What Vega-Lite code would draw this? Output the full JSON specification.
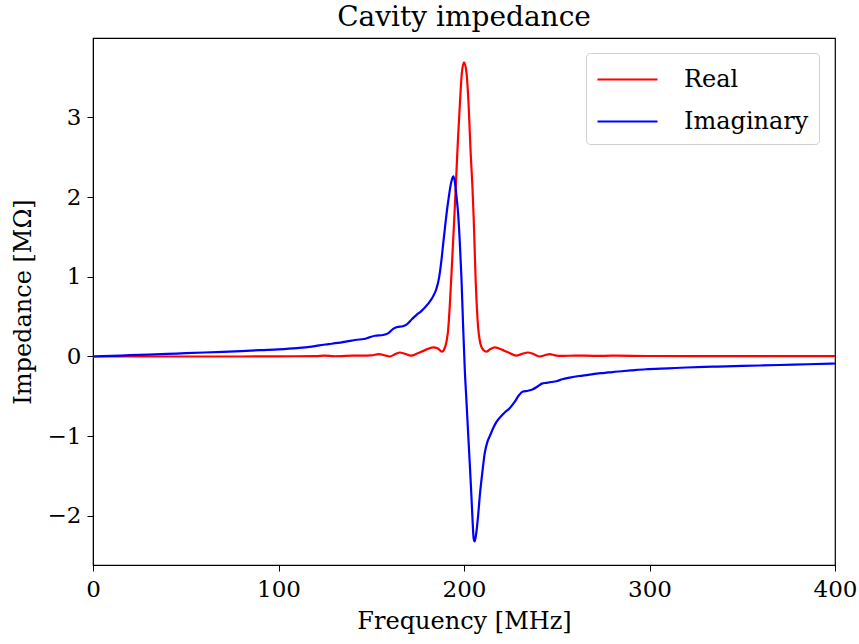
{
  "$schema": "https://vega.github.io/schema/vega-lite/v6.json",
  "width": 742,
  "height": 527,
  "autosize": "none",
  "padding": {"left": 93, "top": 38, "right": 24, "bottom": 79},
  "background": "white",
  "title": {"text": "Cavity impedance", "font": "DejaVu Serif", "fontSize": 28, "fontWeight": "normal", "color": "black", "offset": 6},
  "config": {
    "view": {"stroke": "black", "strokeWidth": 1.2},
    "axis": {
      "labelFont": "DejaVu Serif", "labelFontSize": 23, "labelColor": "black", "labelFlush": false,
      "titleFont": "DejaVu Serif", "titleFontSize": 24, "titleFontWeight": "normal", "titleColor": "black",
      "domainColor": "black", "tickColor": "black", "tickSize": 6, "grid": false
    },
    "legend": {"labelFont": "DejaVu Serif", "labelFontSize": 24, "labelColor": "black"}
  },
  "data": {"values": [
    {"f":0,"v":0,"s":"Real"},{"f":20,"v":0,"s":"Real"},{"f":50,"v":0,"s":"Real"},{"f":80,"v":0,"s":"Real"},
    {"f":100,"v":0.002,"s":"Real"},{"f":120,"v":0.005,"s":"Real"},{"f":125,"v":0.012,"s":"Real"},{"f":130,"v":0.003,"s":"Real"},
    {"f":140,"v":0.01,"s":"Real"},{"f":150,"v":0.015,"s":"Real"},{"f":154,"v":0.03,"s":"Real"},{"f":158,"v":0.01,"s":"Real"},
    {"f":160,"v":0.0,"s":"Real"},{"f":163,"v":0.03,"s":"Real"},{"f":165.5,"v":0.05,"s":"Real"},{"f":168,"v":0.035,"s":"Real"},
    {"f":171.5,"v":0.01,"s":"Real"},{"f":175,"v":0.04,"s":"Real"},{"f":179,"v":0.08,"s":"Real"},{"f":183.3,"v":0.115,"s":"Real"},
    {"f":186,"v":0.1,"s":"Real"},{"f":188,"v":0.06,"s":"Real"},{"f":189.5,"v":0.1,"s":"Real"},{"f":190.5,"v":0.18,"s":"Real"},
    {"f":191.4,"v":0.32,"s":"Real"},{"f":192.3,"v":0.62,"s":"Real"},{"f":193.6,"v":1.2,"s":"Real"},{"f":194.9,"v":1.8,"s":"Real"},
    {"f":195.9,"v":2.3,"s":"Real"},{"f":196.8,"v":2.75,"s":"Real"},{"f":197.7,"v":3.13,"s":"Real"},{"f":198.8,"v":3.55,"s":"Real"},
    {"f":200.0,"v":3.69,"s":"Real"},{"f":201.3,"v":3.57,"s":"Real"},{"f":202.5,"v":3.15,"s":"Real"},{"f":203.6,"v":2.55,"s":"Real"},
    {"f":204.5,"v":2.15,"s":"Real"},{"f":205.2,"v":1.75,"s":"Real"},{"f":206.3,"v":0.95,"s":"Real"},{"f":207.6,"v":0.37,"s":"Real"},
    {"f":208.5,"v":0.2,"s":"Real"},{"f":209.4,"v":0.12,"s":"Real"},{"f":210.5,"v":0.08,"s":"Real"},{"f":212.1,"v":0.06,"s":"Real"},
    {"f":214,"v":0.09,"s":"Real"},{"f":216.6,"v":0.115,"s":"Real"},{"f":219,"v":0.1,"s":"Real"},{"f":221,"v":0.08,"s":"Real"},
    {"f":224,"v":0.05,"s":"Real"},{"f":228.2,"v":0.01,"s":"Real"},{"f":231,"v":0.03,"s":"Real"},{"f":234.5,"v":0.05,"s":"Real"},
    {"f":237.5,"v":0.03,"s":"Real"},{"f":240.8,"v":0.0,"s":"Real"},{"f":243.5,"v":0.015,"s":"Real"},{"f":246.2,"v":0.03,"s":"Real"},
    {"f":249,"v":0.015,"s":"Real"},{"f":252.5,"v":0.007,"s":"Real"},{"f":260,"v":0.012,"s":"Real"},{"f":270,"v":0.008,"s":"Real"},
    {"f":280,"v":0.01,"s":"Real"},{"f":300,"v":0.006,"s":"Real"},{"f":350,"v":0.005,"s":"Real"},{"f":400,"v":0.004,"s":"Real"},

    {"f":0,"v":0,"s":"Imaginary"},{"f":10,"v":0.008,"s":"Imaginary"},{"f":20,"v":0.016,"s":"Imaginary"},{"f":30,"v":0.024,"s":"Imaginary"},
    {"f":40,"v":0.032,"s":"Imaginary"},{"f":50,"v":0.042,"s":"Imaginary"},{"f":60,"v":0.05,"s":"Imaginary"},{"f":70,"v":0.058,"s":"Imaginary"},
    {"f":80,"v":0.068,"s":"Imaginary"},{"f":90,"v":0.08,"s":"Imaginary"},{"f":100,"v":0.09,"s":"Imaginary"},{"f":110,"v":0.105,"s":"Imaginary"},
    {"f":116.8,"v":0.12,"s":"Imaginary"},{"f":122,"v":0.14,"s":"Imaginary"},{"f":127,"v":0.155,"s":"Imaginary"},{"f":132,"v":0.17,"s":"Imaginary"},
    {"f":137,"v":0.19,"s":"Imaginary"},{"f":142,"v":0.21,"s":"Imaginary"},{"f":146,"v":0.22,"s":"Imaginary"},{"f":149,"v":0.24,"s":"Imaginary"},
    {"f":152,"v":0.26,"s":"Imaginary"},{"f":156.4,"v":0.27,"s":"Imaginary"},{"f":159,"v":0.29,"s":"Imaginary"},{"f":162,"v":0.35,"s":"Imaginary"},
    {"f":164,"v":0.37,"s":"Imaginary"},{"f":167,"v":0.38,"s":"Imaginary"},{"f":169,"v":0.4,"s":"Imaginary"},{"f":172,"v":0.47,"s":"Imaginary"},
    {"f":174.3,"v":0.52,"s":"Imaginary"},{"f":177,"v":0.57,"s":"Imaginary"},{"f":180.6,"v":0.66,"s":"Imaginary"},{"f":183,"v":0.74,"s":"Imaginary"},
    {"f":185,"v":0.84,"s":"Imaginary"},{"f":186.5,"v":0.98,"s":"Imaginary"},{"f":187.8,"v":1.2,"s":"Imaginary"},{"f":188.8,"v":1.42,"s":"Imaginary"},
    {"f":189.8,"v":1.63,"s":"Imaginary"},{"f":190.8,"v":1.83,"s":"Imaginary"},{"f":191.8,"v":2.0,"s":"Imaginary"},{"f":192.8,"v":2.15,"s":"Imaginary"},
    {"f":193.6,"v":2.23,"s":"Imaginary"},{"f":194.2,"v":2.26,"s":"Imaginary"},
    {"f":195,"v":2.2,"s":"Imaginary"},{"f":196,"v":2.0,"s":"Imaginary"},{"f":196.8,"v":1.8,"s":"Imaginary"},{"f":197.7,"v":1.45,"s":"Imaginary"},
    {"f":198.6,"v":1.0,"s":"Imaginary"},{"f":199.5,"v":0.4,"s":"Imaginary"},{"f":200.4,"v":-0.15,"s":"Imaginary"},{"f":201.3,"v":-0.55,"s":"Imaginary"},
    {"f":202.2,"v":-0.95,"s":"Imaginary"},{"f":203.1,"v":-1.34,"s":"Imaginary"},{"f":204,"v":-1.75,"s":"Imaginary"},{"f":204.6,"v":-2.05,"s":"Imaginary"},
    {"f":205.2,"v":-2.28,"s":"Imaginary"},{"f":205.7,"v":-2.32,"s":"Imaginary"},{"f":206.4,"v":-2.25,"s":"Imaginary"},{"f":207.6,"v":-2.0,"s":"Imaginary"},
    {"f":208.5,"v":-1.75,"s":"Imaginary"},{"f":209.4,"v":-1.55,"s":"Imaginary"},{"f":210.3,"v":-1.37,"s":"Imaginary"},{"f":211.2,"v":-1.21,"s":"Imaginary"},
    {"f":212.5,"v":-1.08,"s":"Imaginary"},{"f":213.9,"v":-1.0,"s":"Imaginary"},{"f":215.7,"v":-0.9,"s":"Imaginary"},{"f":217.5,"v":-0.82,"s":"Imaginary"},
    {"f":220,"v":-0.75,"s":"Imaginary"},{"f":222.5,"v":-0.69,"s":"Imaginary"},{"f":224.6,"v":-0.65,"s":"Imaginary"},{"f":227.3,"v":-0.57,"s":"Imaginary"},
    {"f":229.5,"v":-0.49,"s":"Imaginary"},{"f":231.8,"v":-0.44,"s":"Imaginary"},{"f":234.5,"v":-0.43,"s":"Imaginary"},{"f":237.2,"v":-0.41,"s":"Imaginary"},
    {"f":240,"v":-0.37,"s":"Imaginary"},{"f":242,"v":-0.34,"s":"Imaginary"},{"f":244.4,"v":-0.33,"s":"Imaginary"},{"f":247,"v":-0.32,"s":"Imaginary"},
    {"f":249.8,"v":-0.31,"s":"Imaginary"},{"f":253,"v":-0.285,"s":"Imaginary"},{"f":257,"v":-0.265,"s":"Imaginary"},{"f":262,"v":-0.245,"s":"Imaginary"},
    {"f":267,"v":-0.23,"s":"Imaginary"},{"f":271.4,"v":-0.215,"s":"Imaginary"},{"f":276,"v":-0.205,"s":"Imaginary"},{"f":280,"v":-0.195,"s":"Imaginary"},
    {"f":285,"v":-0.185,"s":"Imaginary"},{"f":290,"v":-0.175,"s":"Imaginary"},{"f":298,"v":-0.16,"s":"Imaginary"},{"f":310,"v":-0.148,"s":"Imaginary"},
    {"f":320,"v":-0.138,"s":"Imaginary"},{"f":334,"v":-0.128,"s":"Imaginary"},{"f":350,"v":-0.118,"s":"Imaginary"},{"f":370,"v":-0.107,"s":"Imaginary"},
    {"f":385,"v":-0.097,"s":"Imaginary"},{"f":400,"v":-0.088,"s":"Imaginary"}
  ]},
  "mark": {"type": "line", "strokeWidth": 2.2, "interpolate": "monotone", "clip": true},
  "encoding": {
    "x": {"field": "f", "type": "quantitative", "title": "Frequency [MHz]",
          "scale": {"domain": [0, 400], "nice": false, "zero": false},
          "axis": {"values": [0, 100, 200, 300, 400], "labelPadding": 7, "titlePadding": 8}},
    "y": {"field": "v", "type": "quantitative", "title": "Impedance [MΩ]",
          "scale": {"domain": [-2.616, 3.996], "nice": false, "zero": false},
          "axis": {"values": [-2, -1, 0, 1, 2, 3], "format": "d", "labelPadding": 6, "titlePadding": 12}},
    "color": {"field": "s", "type": "nominal",
              "scale": {"domain": ["Real", "Imaginary"], "range": ["#ff0000", "#0000ff"]},
              "legend": {"title": null, "orient": "none", "legendX": 493, "legendY": 15,
                         "symbolType": "M-1,0H3", "symbolSize": 900, "symbolStrokeWidth": 2.2,
                         "rowPadding": 13, "labelOffset": 55, "padding": 10,
                         "strokeColor": "#d0d0d0", "cornerRadius": 4, "fillColor": "white"}},
    "order": {"field": "s", "type": "nominal", "sort": "descending"}
  }
}
